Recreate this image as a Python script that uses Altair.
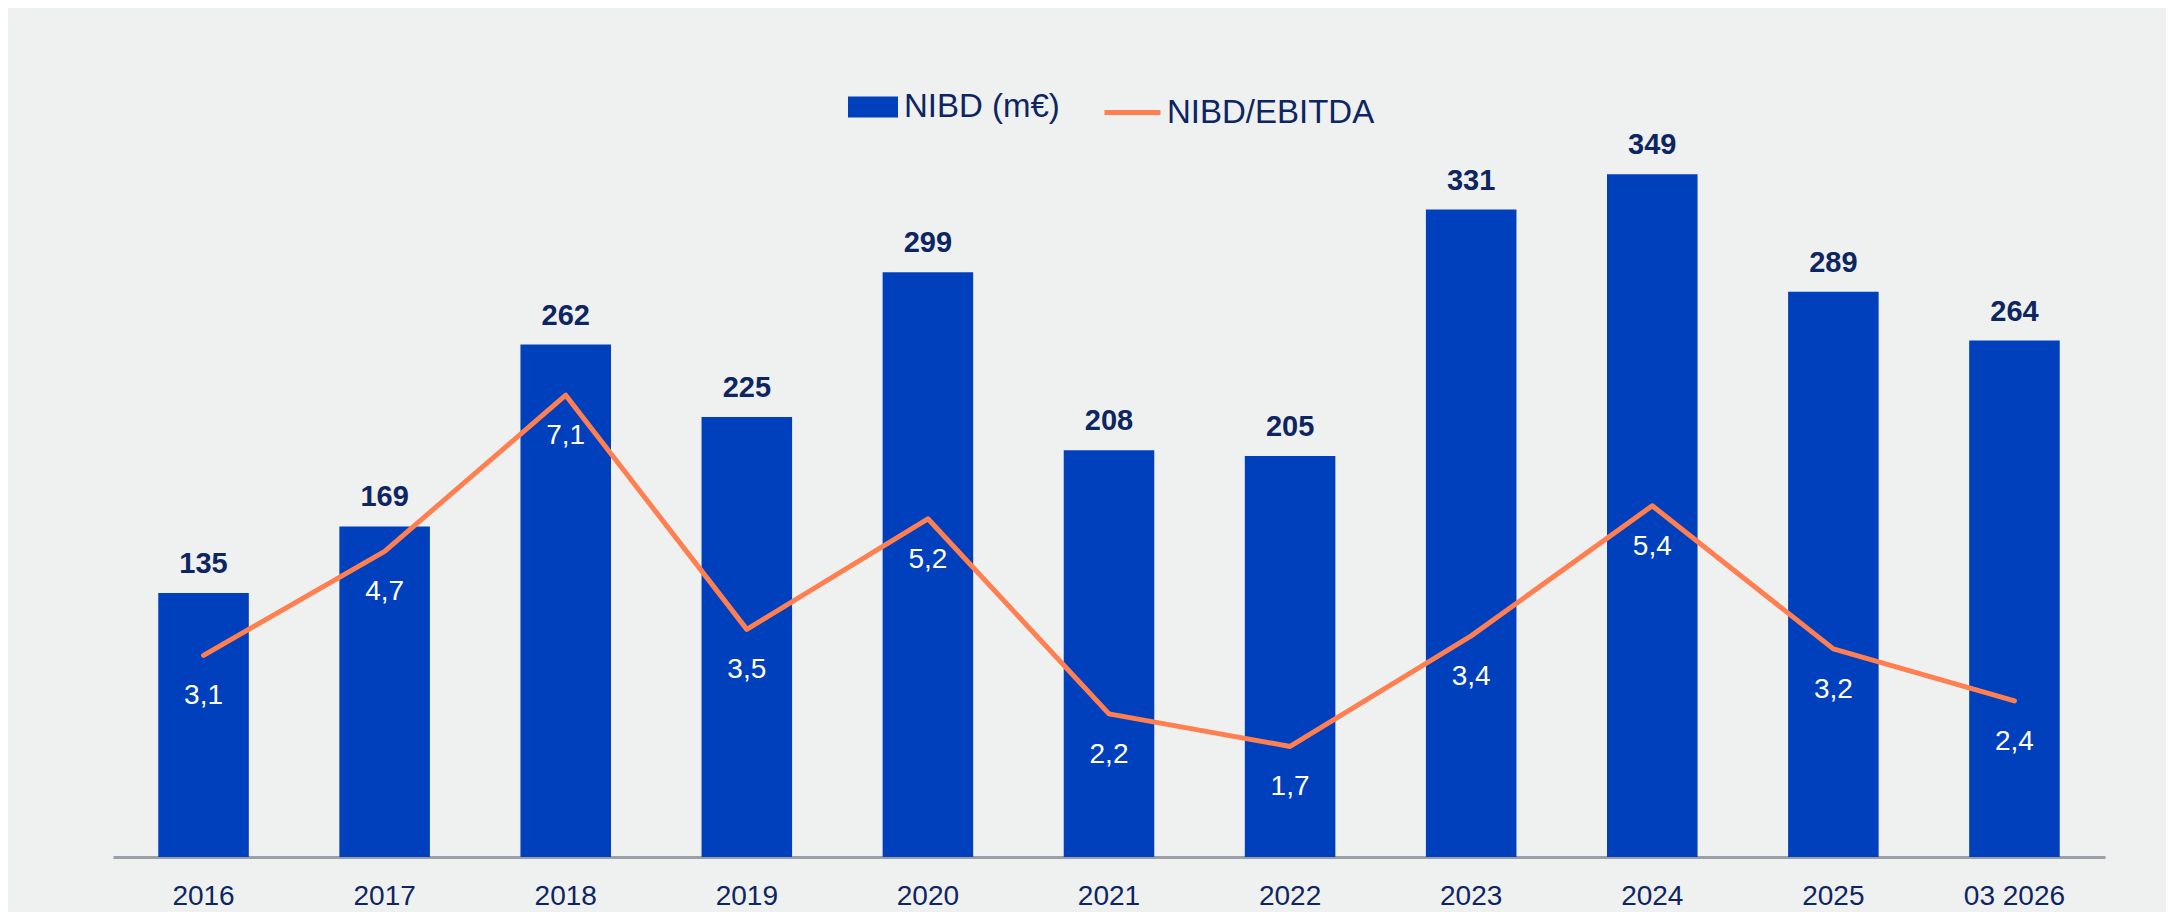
import altair as alt
import pandas as pd

categories = ["2016", "2017", "2018", "2019", "2020", "2021", "2022", "2023", "2024", "2025", "03 2026"]
nibd = [135, 169, 262, 225, 299, 208, 205, 331, 349, 289, 264]
ratio = [3.1, 4.7, 7.1, 3.5, 5.2, 2.2, 1.7, 3.4, 5.4, 3.2, 2.4]

BAR_NAME = "NIBD (m€)"
LINE_NAME = "NIBD/EBITDA"

df = pd.DataFrame({
    "cat": categories,
    "nibd": nibd,
    "ratio": ratio,
    "ratio_label": [f"{v:.1f}".replace(".", ",") for v in ratio],
    "bar_series": BAR_NAME,
    "line_series": LINE_NAME,
})

NAVY = "#0d2561"
BLUE = "#0040bc"
ORANGE = "#ff7f50"
FONT = "Liberation Sans"

x = alt.X("cat:N", sort=categories, title=None,
          scale=alt.Scale(paddingInner=0.5, paddingOuter=0.25),
          axis=alt.Axis(labelAngle=0, labelFontSize=28, labelColor=NAVY, labelFont=FONT,
                        ticks=False, domainColor="#9aa0a6", domainWidth=3, labelPadding=25,
                        grid=False))

ybar = alt.Y("nibd:Q", axis=None, scale=alt.Scale(domain=[0, 409], nice=False))
yline = alt.Y("ratio:Q", axis=None, scale=alt.Scale(domain=[0, 12.3], nice=False))

base = alt.Chart(df)

bars = base.mark_bar().encode(
    x=x, y=ybar,
    color=alt.Color("bar_series:N", scale=alt.Scale(domain=[BAR_NAME], range=[BLUE]),
                    legend=alt.Legend(title=None, orient="none", legendX=735, legendY=25,
                                      direction="horizontal", padding=0,
                                      symbolType="M-1,-0.42L1,-0.42L1,0.42L-1,0.42Z",
                                      symbolSize=2500, symbolStrokeWidth=0,
                                      labelFontSize=33, labelColor=NAVY, labelFont=FONT,
                                      labelOffset=6, labelLimit=0)),
)

bar_labels = base.mark_text(dy=-29, baseline="middle", fontSize=29, fontWeight="bold",
                            color=NAVY, font=FONT).encode(x=x, y=ybar, text="nibd:Q")

line = base.mark_line(strokeWidth=5, strokeCap="round", strokeJoin="round").encode(
    x=x, y=yline,
    stroke=alt.Stroke("line_series:N", scale=alt.Scale(domain=[LINE_NAME], range=[ORANGE]),
                      legend=alt.Legend(title=None, orient="none", legendX=989, legendY=25,
                                        direction="horizontal", padding=0,
                                        symbolType="stroke", symbolSize=3136,
                                        symbolStrokeWidth=5,
                                        labelFontSize=33, labelColor=NAVY, labelFont=FONT,
                                        labelOffset=4, labelLimit=0)),
)

line_labels = base.mark_text(dy=41, baseline="middle", fontSize=28, color="white",
                             font=FONT).encode(x=x, y=yline, text="ratio_label:N")

left = alt.layer(bars, bar_labels)
right = alt.layer(line, line_labels)

chart = alt.layer(left, right).resolve_scale(y="independent").properties(
    width=1992, height=800,
    autosize=alt.AutoSizeParams(type="none"),
    padding={"left": 105, "top": 49, "right": 61, "bottom": 55},
    background="#eff1f0",
).configure_view(stroke=None).configure_legend(symbolOpacity=1)

chart.save("out.html", embed_options={"renderer": "svg", "actions": False})
